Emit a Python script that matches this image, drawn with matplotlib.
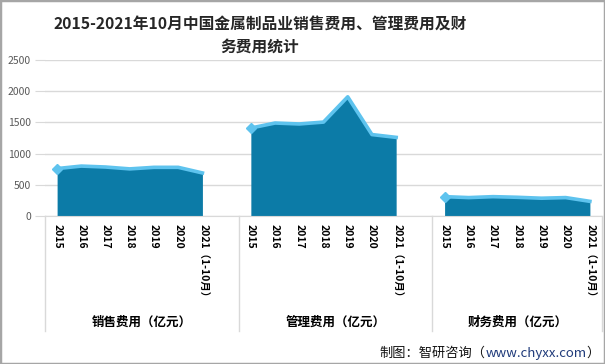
import numpy as np
import matplotlib.pyplot as plt
from matplotlib.patches import Rectangle

plt.rcParams['font.family'] = ['Noto Sans CJK SC', 'DejaVu Sans']

years = ['2015', '2016', '2017', '2018', '2019', '2020', '2021（1-10月）']
groups = ['销售费用（亿元）', '管理费用（亿元）', '财务费用（亿元）']
sales = [760, 800, 785, 755, 780, 780, 690]
admin = [1410, 1490, 1475, 1505, 1910, 1305, 1260]
finance = [310, 295, 310, 300, 285, 295, 235]
series = [sales, admin, finance]

fill_col = '#0c7ba7'
line_col = '#5ec3ee'

fig = plt.figure(figsize=(6.05, 3.64), dpi=100)
fig.patch.set_facecolor('white')
ax = fig.add_axes([45 / 605, 1 - 216 / 364, 557 / 605, 156 / 364])

ticks, labels = [], []
for g, vals in enumerate(series):
    x = np.arange(7) + g * 8
    ax.fill_between(x, 0, vals, color=fill_col, lw=0, zorder=2)
    ax.plot(x, vals, color=line_col, lw=2.6, solid_joinstyle='round', zorder=3)
    ax.plot(x[0], vals[0], marker='D', ms=5, color=line_col, zorder=4)
    ticks += list(x)
    labels += years

ax.set_xlim(-0.5, 22.5)
ax.set_ylim(0, 2500)
ax.set_yticks(range(0, 2501, 500))
ax.yaxis.grid(True, color='#d9d9d9', lw=1)
ax.set_axisbelow(True)
for s in ['top', 'right', 'left']:
    ax.spines[s].set_visible(False)
ax.spines['bottom'].set_color('#d9d9d9')
ax.tick_params(axis='y', length=7, color='#d9d9d9', labelsize=7.5,
               labelcolor='#595959', pad=3)
ax.set_xticks(ticks)
ax.set_xticklabels(labels, rotation=270, fontsize=7.5, fontweight='bold',
                   va='top', ha='center')
ax.tick_params(axis='x', length=0, pad=6)

# group separators and group names under the axis
for xs in [-0.5, 7.5, 15.5, 22.5]:
    ax.plot([xs, xs], [0, -0.735], transform=ax.get_xaxis_transform(),
            color='#d9d9d9', lw=1, clip_on=False)
for g, name in enumerate(groups):
    cx = g * 8 + (3.5 if g < 2 else 3)
    ax.text(cx, -0.68, name, transform=ax.get_xaxis_transform(),
            ha='center', va='center', fontsize=9, fontweight='bold')

fig.text(260 / 605, 1 - 25 / 364, '2015-2021年10月中国金属制品业销售费用、管理费用及财',
         ha='center', va='center', fontsize=11.3, fontweight='bold', color='#262626')
fig.text(260 / 605, 1 - 47 / 364, '务费用统计',
         ha='center', va='center', fontsize=11.3, fontweight='bold', color='#262626')

# footer: three pieces, laid out right to left so it ends at the border
fy = 1 - 353 / 364
parts = [('）', '#111111'), ('www.chyxx.com', '#1f3a7a'), ('制图：智研咨询（', '#111111')]
right = 600
fig.canvas.draw()
for txt, col in parts:
    t = fig.text(right / 605, fy, txt, ha='right', va='center', fontsize=9.5, color=col)
    fig.canvas.draw()
    right = t.get_window_extent().x0

fig.patches.append(Rectangle((0, 0), 1, 1, transform=fig.transFigure,
                             fill=False, ec='#a6a6a6', lw=2.5))

fig.savefig('out.png', dpi=100)
